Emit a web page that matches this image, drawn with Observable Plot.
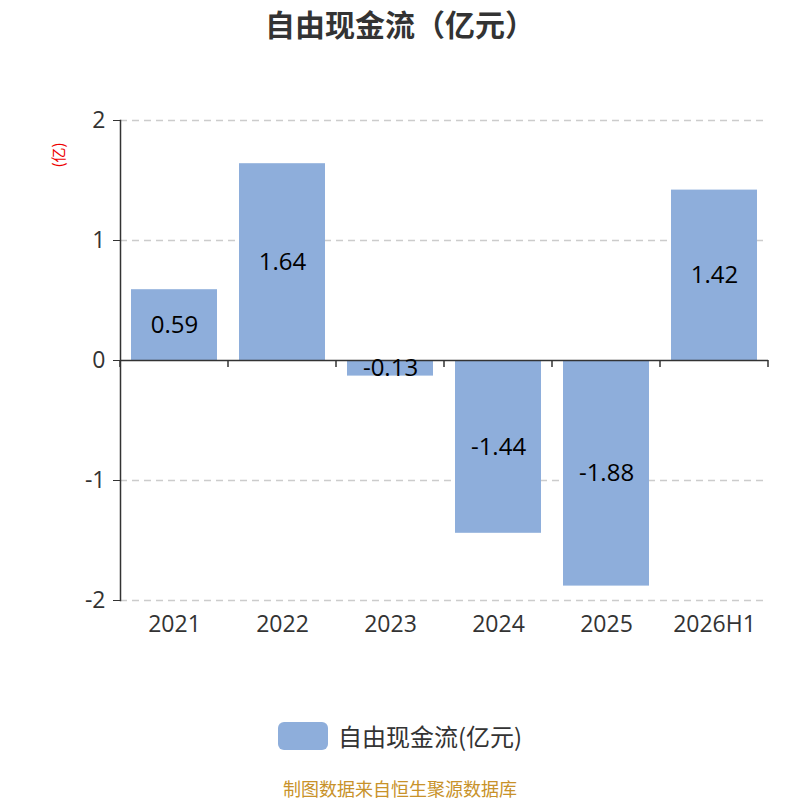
<!DOCTYPE html>
<html><head><meta charset="utf-8">
<script src="https://cdn.jsdelivr.net/npm/d3@7"></script>
<script src="https://cdn.jsdelivr.net/npm/@observablehq/plot@0.6"></script>
<style>
body{margin:0;background:#fff;font-family:"Open Sans","Noto Sans CJK SC",sans-serif;overflow:hidden;}
#wrap{position:relative;width:800px;height:800px;}
#title{position:absolute;left:0;top:2px;width:800px;text-align:center;font-size:30px;line-height:42px;font-weight:bold;color:#333;font-family:"Noto Sans CJK SC",sans-serif;}
#unit{position:absolute;left:42px;top:145px;width:32px;height:20px;text-align:center;font-size:15px;color:#e00;transform:rotate(-90deg);line-height:20px;font-family:"Noto Sans CJK SC",sans-serif;}
#legend{position:absolute;left:278px;top:721px;display:flex;align-items:center;font-size:24px;line-height:30px;color:#333;font-family:"Noto Sans CJK SC",sans-serif;}
#legend .sw{width:50px;height:28px;border-radius:6px;background:#8eaedb;margin-right:10px;}
#footer{position:absolute;left:0;top:779px;width:800px;text-align:center;font-size:18px;line-height:18px;color:#c8922a;font-family:"Noto Sans CJK SC",sans-serif;}
#chart{position:absolute;left:0;top:0;}
</style></head>
<body><div id="wrap">
<div id="chart"></div>
<div id="title">自由现金流（亿元）</div>
<div id="unit">(亿)</div>
<div id="legend"><div class="sw"></div><span>自由现金流(亿元)</span></div>
<div id="footer">制图数据来自恒生聚源数据库</div>
</div>
<script>
const categories = ["2021","2022","2023","2024","2025","2026H1"];
const values = [0.59, 1.64, -0.13, -1.44, -1.88, 1.42];
const valueLabels = ["0.59","1.64","-0.13","-1.44","-1.88","1.42"];
const yTicks = [-2,-1,0,1,2];
const barColor = "#8eaedb";

const data = categories.map((c,i)=>({cat:c, v:values[i], label:valueLabels[i]}));

// category boundary ticks on the zero line, derived from the band scale
function boundaryTicks(index, scales, values, dims, context) {
  const x = scales.x, y = scales.y;
  const step = x(categories[1]) - x(categories[0]);
  let bw = x.bandwidth;
  if (typeof bw === "function") bw = bw();
  if (!(bw > 0)) bw = step * 0.8;
  const half = (step - bw) / 2;
  const y0 = y(0);
  const g = d3.create("svg:g");
  const xs = categories.map(c => x(c) - half);
  xs.push(x(categories[categories.length-1]) + bw + half);
  for (const px of xs) {
    g.append("line").attr("x1",px).attr("x2",px).attr("y1",y0).attr("y2",y0+7)
      .attr("stroke","#333").attr("stroke-width",1.5);
  }
  return g.node();
}

const chart = Plot.plot({
  width: 800,
  height: 800,
  marginTop: 120,
  marginBottom: 200,
  marginLeft: 120,
  marginRight: 32,
  style: {fontFamily: "'Open Sans','Noto Sans CJK SC',sans-serif", background: "transparent"},
  x: {domain: categories, paddingInner: 0.2, paddingOuter: 0.1, label: null},
  y: {domain: [-2, 2], label: null},
  marks: [
    Plot.ruleY(yTicks.filter(d=>d!==0), {stroke:"#ccc", strokeWidth:1.3, strokeDasharray:"7,5"}),
    Plot.barY(data, {x:"cat", y:"v", fill:barColor}),
    Plot.ruleY([0], {stroke:"#333", strokeWidth:1.5}),
    boundaryTicks,
    Plot.frame({anchor:"left", stroke:"#333", strokeWidth:1.5}),
    Plot.axisY({ticks: yTicks, tickSize: 7, tickPadding: 8, fontSize: 23, color:"#333", label: null, tickFormat: d=>String(d)}),
    Plot.axisX({anchor:"bottom", tickSize: 0, tickPadding: 15, fontSize: 23, color:"#333", label: null}),
    Plot.text(data, {x:"cat", y: d=>d.v/2, text:"label", fontSize: 24, fill:"#000"})
  ]
});
document.getElementById("chart").appendChild(chart);
</script>
</body></html>
